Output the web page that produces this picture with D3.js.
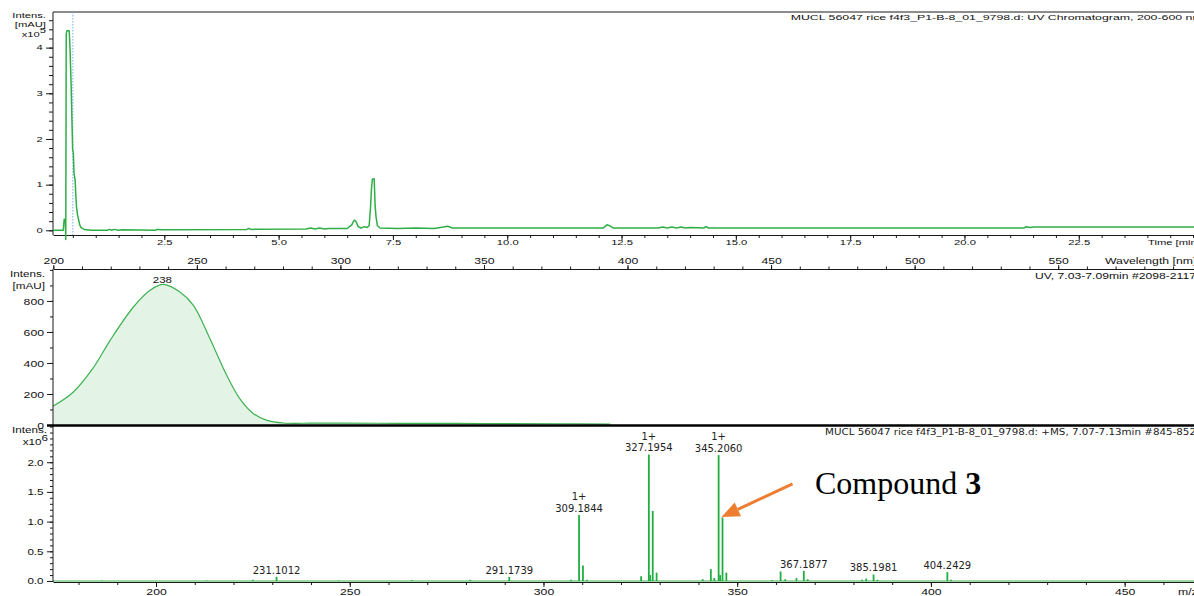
<!DOCTYPE html>
<html>
<head>
<meta charset="utf-8">
<script src="https://cdn.jsdelivr.net/npm/d3@7"></script>
<style>
  html, body { margin: 0; padding: 0; background: #fff; overflow: hidden; }
  svg { display: block; }
</style>
</head>
<body>
<svg id="chart" width="1194" height="596"></svg>
<script>
// ---------------- data ----------------
// UV chromatogram, 200-600 nm (time in min, intensity in 10^5 mAU)
const uvTime = [0.07, 0.29, 0.31, 0.335, 0.345, 0.355, 0.37, 0.42, 0.435, 0.45, 0.465, 0.48, 0.495, 0.51,
  0.525, 0.55, 0.565, 0.58, 0.60, 0.62, 0.65, 0.68, 0.75, 0.9, 1.25, 1.3, 1.35, 1.4, 1.5, 1.57, 2.3, 2.35,
  2.45, 4.3, 4.35, 4.4, 5.6, 5.7, 5.8, 5.9, 6.0, 6.1, 6.5, 6.6, 6.65, 6.69, 6.74, 6.8, 6.88, 6.93, 6.98,
  7.01, 7.03, 7.05, 7.09, 7.11, 7.13, 7.16, 7.22, 7.6, 8.0, 8.4, 8.6, 8.7, 8.8, 9.0, 12.1, 12.18, 12.24,
  12.32, 13.3, 13.4, 13.5, 13.6, 13.7, 13.8, 13.9, 14.0, 14.3, 14.35, 14.4, 21.3, 21.35, 21.45, 21.5, 25.02];
const uvIntensity = [0, 0, 0.24, 0.24, -0.2, 4.3, 4.37, 4.37, 4.06, 3.58, 3.07, 2.42, 1.76, 1.7,
  1.25, 1.1, 0.75, 0.52, 0.35, 0.26, 0.12, 0.06, 0.02, 0, 0, 0.02, 0, 0.02, 0, 0.01, 0, 0.02,
  0.01, 0.02, 0.04, 0.02, 0.03, 0.05, 0.03, 0.05, 0.03, 0.04, 0.04, 0.12, 0.22, 0.2, 0.08, 0.05, 0.08, 0.06, 0.1,
  0.5, 0.9, 1.12, 1.13, 0.55, 0.3, 0.1, 0.05, 0.04, 0.05, 0.04, 0.07, 0.09, 0.05, 0.05, 0.05, 0.12, 0.1,
  0.05, 0.05, 0.07, 0.05, 0.07, 0.05, 0.07, 0.05, 0.06, 0.05, 0.08, 0.05, 0.05, 0.08, 0.06, 0.07, 0.07];
const timeTicks = [2.5, 5.0, 7.5, 10.0, 12.5, 15.0, 17.5, 20.0, 22.5];
const uvMarkerTime = 0.5;

// UV spectrum, 7.03-7.09 min (wavelength in nm, intensity in mAU)
const wavelengths = [200, 207, 213.9, 219.8, 227.9, 233.7, 238.3, 244.1, 248.8, 254.6, 260.4, 265,
  269.7, 274.4, 280.1, 290, 300, 320, 340, 357, 375, 394];
const absorbance = [122, 213, 368, 546, 761, 869, 907, 858, 772, 555, 321, 168,
  73, 30, 13, 12, 12, 11, 10, 9, 8, 6];
const wavelengthTicks = [200, 250, 300, 350, 400, 450, 500, 550];
const maxWavelength = 238;

// +MS spectrum, 7.07-7.13 min (m/z, intensity in 10^6)
const mzValues = [186.1, 213.1, 225.0, 231.1012, 247.1, 266.0, 281.1, 291.1739, 307.1, 309.1844, 310.19,
  311.2, 325.2, 327.1954, 327.55, 328.2, 329.2, 341.1, 343.2, 344.1, 345.2060, 345.6, 346.21, 347.2, 359.0,
  361.2, 362.4, 365.3, 367.1877, 368.2, 382.2, 383.3, 385.1981, 386.2, 404.2429, 405.2];
const msIntensity = [0.006, 0.006, 0.02, 0.07, 0.008, 0.012, 0.02, 0.07, 0.02, 1.11, 0.26,
  0.02, 0.08, 2.13, 0.1, 1.18, 0.14, 0.03, 0.2, 0.05, 2.12, 0.1, 1.07, 0.14, 0.012,
  0.16, 0.03, 0.05, 0.17, 0.03, 0.02, 0.04, 0.11, 0.02, 0.15, 0.02];
const labelledMz = [231.1012, 291.1739, 309.1844, 327.1954, 345.2060, 367.1877, 385.1981, 404.2429];
const labelCharge = ["", "", "1+", "1+", "1+", "", "", ""];
const mzTicks = [200, 250, 300, 350, 400, 450];
const msYTicks = [0.0, 0.5, 1.0, 1.5, 2.0];
const compoundMz = 346.21;

// ---------------- drawing ----------------
const svg = d3.select("#chart");
const W = 1194;
const LX = 53;
const AXIS = "#1a1a1a";
const SANS = "'Liberation Sans', Arial, sans-serif";
const MSFONT = "'DejaVu Sans', Verdana, sans-serif";
const SERIF = "'Liberation Serif', 'Times New Roman', serif";

function txt(parent, x, y, s, o = {}) {
  const sx = o.sx || 1;
  const t = parent.append("text")
    .attr("transform", `translate(${x},${y}) scale(${sx},1)`)
    .attr("font-family", o.font || SANS)
    .attr("font-size", o.fs || 9)
    .attr("text-anchor", o.anchor || "start")
    .attr("fill", o.fill || "#111")
    .text(s);
  if (o.len) t.attr("textLength", o.len / sx).attr("lengthAdjust", "spacingAndGlyphs");
  return t;
}
function hline(parent, x1, x2, y, w = 1) {
  parent.append("line").attr("x1", x1).attr("x2", x2).attr("y1", y).attr("y2", y)
    .attr("stroke", AXIS).attr("stroke-width", w);
}
function vline(parent, x, y1, y2, w = 1) {
  parent.append("line").attr("x1", x).attr("x2", x).attr("y1", y1).attr("y2", y2)
    .attr("stroke", AXIS).attr("stroke-width", w);
}
function tickOnly(g) {
  g.select(".domain").remove();
  g.attr("color", AXIS);
}
function styleBottomText(g, fs, sx, y) {
  g.selectAll("text").attr("font-family", SANS).attr("font-size", fs).attr("fill", "#111")
    .attr("y", y).attr("dy", "0.71em").attr("transform", `scale(${sx},1)`);
}
function styleLeftText(g, fs, sx, dx) {
  g.selectAll("text").attr("font-family", SANS).attr("font-size", fs).attr("fill", "#111")
    .attr("x", dx / sx).attr("dy", "0.34em").attr("transform", `scale(${sx},1)`);
}

// ===== Panel 1: UV chromatogram =====
const p1 = svg.append("g");
const xT = d3.scaleLinear().domain([0.0656, 25.02]).range([LX, W]);
const yT = d3.scaleLinear().domain([0, 4.78]).range([230.3, 12]);
const s1 = 1.65, f1 = 6.8;

hline(p1, LX, W, 12);
vline(p1, LX, 12, 235);

p1.append("g").attr("transform", "translate(0,235)")
  .call(d3.axisBottom(xT).tickValues(d3.range(0.5, 25.01, 0.5)).tickSize(3).tickFormat(""))
  .call(tickOnly);
p1.append("g").attr("transform", "translate(0,235)")
  .call(d3.axisBottom(xT).tickValues(timeTicks).tickSize(5).tickSizeOuter(0).tickFormat(d3.format(".1f")))
  .call(g => g.attr("color", AXIS))
  .call(g => styleBottomText(g, f1, s1, 5.3));

p1.append("g").attr("transform", `translate(${LX},0)`)
  .call(d3.axisLeft(yT).tickValues(d3.range(0, 4.79, 0.2)).tickSize(4).tickFormat(""))
  .call(tickOnly);
p1.append("g").attr("transform", `translate(${LX},0)`)
  .call(d3.axisLeft(yT).tickValues([0, 1, 2, 3, 4]).tickSize(7).tickFormat(d3.format("d")))
  .call(tickOnly)
  .call(g => styleLeftText(g, f1, s1, -10.3));

txt(p1, 1148, 245.2, "Time [min]", { fs: f1, sx: s1 });
txt(p1, 46, 17.7, "Intens.", { fs: f1, sx: s1, anchor: "end" });
txt(p1, 46, 26.5, "[mAU]", { fs: f1, sx: s1, anchor: "end" });
const e5 = txt(p1, 46, 37.3, "x10", { fs: f1, sx: s1, anchor: "end" });
e5.append("tspan").attr("dy", -4).attr("font-size", f1).text("5");
txt(p1, 790.7, 20, "MUCL 56047 rice f4f3_P1-B-8_01_9798.d: UV Chromatogram, 200-600 nm",
  { fs: 7.4, len: 412 });

// current retention-time marker
p1.append("line")
  .attr("x1", xT(uvMarkerTime)).attr("x2", xT(uvMarkerTime))
  .attr("y1", 12).attr("y2", 235)
  .attr("stroke", "#6fb2ee").attr("stroke-width", 1).attr("stroke-dasharray", "1.5,1.5");

const uvLine = d3.line().x((d, i) => xT(uvTime[i])).y(d => yT(d));
p1.append("path").datum(uvIntensity)
  .attr("d", uvLine)
  .attr("fill", "none").attr("stroke", "#2fae47").attr("stroke-width", 1.5)
  .attr("stroke-linejoin", "round");

// ===== Panel 2: UV spectrum =====
const p2 = svg.append("g");
const xW = d3.scaleLinear().domain([200, 597.3]).range([53.3, W]);
const yW = d3.scaleLinear().domain([0, 1006]).range([425, 269]);
const s2 = 1.33, f2 = 9.2;

const smooth = d3.curveCatmullRom.alpha(0.5);
const specArea = d3.area().x((d, i) => xW(wavelengths[i])).y0(yW(0)).y1(d => yW(d)).curve(smooth);
const specLine = d3.line().x((d, i) => xW(wavelengths[i])).y(d => yW(d)).curve(smooth);
p2.append("path").datum(absorbance).attr("d", specArea).attr("fill", "#e3f3e6");
p2.append("path").datum(absorbance).attr("d", specLine)
  .attr("fill", "none").attr("stroke", "#3db24f").attr("stroke-width", 1.2);

p2.append("g").attr("transform", "translate(0,269)")
  .call(d3.axisTop(xW).tickValues(d3.range(200, 597, 10)).tickSize(2.5).tickFormat(""))
  .call(tickOnly);
p2.append("g").attr("transform", "translate(0,269)")
  .call(d3.axisTop(xW).tickValues(wavelengthTicks).tickSize(4).tickSizeOuter(0).tickFormat(d3.format("d")))
  .call(g => g.attr("color", AXIS))
  .call(g => g.selectAll("text").attr("font-family", SANS).attr("font-size", f2).attr("fill", "#111")
    .attr("y", -5).attr("dy", "0").attr("transform", `scale(${s2},1)`));
txt(p2, 1105, 264, "Wavelength [nm]", { fs: f2, sx: s2 });

vline(p2, LX, 269, 426);
p2.append("g").attr("transform", `translate(${LX},0)`)
  .call(d3.axisLeft(yW).tickValues(d3.range(0, 1001, 100)).tickSize(3).tickFormat(""))
  .call(tickOnly);
p2.append("g").attr("transform", `translate(${LX},0)`)
  .call(d3.axisLeft(yW).tickValues([0, 200, 400, 600, 800]).tickSize(6).tickFormat(d3.format("d")))
  .call(tickOnly)
  .call(g => styleLeftText(g, f2, s2, -9));

txt(p2, 45, 276.7, "Intens.", { fs: f2, sx: 1.27, anchor: "end" });
txt(p2, 45, 289, "[mAU]", { fs: f2, sx: 1.27, anchor: "end" });
txt(p2, xW(maxWavelength), yW(d3.max(absorbance)) - 1.5, String(maxWavelength),
  { fs: f2, sx: 1.25, anchor: "middle" });
txt(p2, 1035, 278.5, "UV, 7.03-7.09min #2098-2117", { fs: 8.6, len: 161 });

// ===== Panel 3: +MS spectrum =====
const p3 = svg.append("g");
const xM = d3.scaleLinear().domain([173.41, 467.9]).range([LX, W]);
const yM = d3.scaleLinear().domain([0, 2.61]).range([581, 426]);
const s3 = 1.35, f3 = 8.6;

// profile baseline and centroid bars
p3.append("line").attr("x1", xM.range()[0]).attr("x2", xM.range()[1])
  .attr("y1", yM(0)).attr("y2", yM(0)).attr("stroke", "#3db24f").attr("stroke-width", 1);
p3.append("g").selectAll("line").data(mzValues).join("line")
  .attr("x1", d => xM(d)).attr("x2", d => xM(d))
  .attr("y1", yM(0)).attr("y2", (d, i) => yM(msIntensity[i]))
  .attr("stroke", "#1fae3f").attr("stroke-width", 1.8);

// peak annotations
labelledMz.forEach((mz, k) => {
  const v = msIntensity[mzValues.indexOf(mz)];
  const top = yM(v);
  txt(p3, xM(mz), top - 3.2, mz.toFixed(4), { font: MSFONT, fs: 10, anchor: "middle", fill: "#222" });
  if (labelCharge[k]) {
    txt(p3, xM(mz), top - 14.6, labelCharge[k], { font: MSFONT, fs: 10, anchor: "middle", fill: "#222" });
  }
});

vline(p3, LX, 426, 582);
p3.append("g").attr("transform", "translate(0,582)")
  .call(d3.axisBottom(xM).tickValues(d3.range(180, 468, 10)).tickSize(3).tickFormat(""))
  .call(tickOnly);
p3.append("g").attr("transform", "translate(0,582)")
  .call(d3.axisBottom(xM).tickValues(mzTicks).tickSize(5).tickSizeOuter(0).tickFormat(d3.format("d")))
  .call(g => g.attr("color", AXIS))
  .call(g => styleBottomText(g, f2, s2, 6.3));
txt(p3, 1178, 595, "m/z", { fs: f2, sx: s2 });

p3.append("g").attr("transform", `translate(${LX},0)`)
  .call(d3.axisLeft(yM).tickValues(d3.range(0, 2.61, 0.1)).tickSize(3).tickFormat(""))
  .call(tickOnly);
p3.append("g").attr("transform", `translate(${LX},0)`)
  .call(d3.axisLeft(yM).tickValues(msYTicks).tickSize(6).tickFormat(d3.format(".1f")))
  .call(tickOnly)
  .call(g => styleLeftText(g, f3, s3, -9.5));

txt(p3, 47, 433.3, "Intens.", { fs: f2, sx: 1.27, anchor: "end" });
const e6 = txt(p3, 48, 445, "x10", { fs: f2, sx: 1.27, anchor: "end" });
e6.append("tspan").attr("dy", -4.5).text("6");
txt(p3, 825, 434.5, "MUCL 56047 rice f4f3_P1-B-8_01_9798.d: +MS, 7.07-7.13min #845-852",
  { font: MSFONT, fs: 8.4, fill: "#222", len: 371 });

// panel separator
svg.append("line").attr("x1", 47).attr("x2", W).attr("y1", 425.5).attr("y2", 425.5)
  .attr("stroke", "#000").attr("stroke-width", 2.5);

// compound annotation with arrow pointing at its ion
const ci = mzValues.indexOf(compoundMz);
const tip = [xM(compoundMz) - 1, yM(msIntensity[ci]) - 0.5];
const tail = [tip[0] + 71, tip[1] - 33];
const len = Math.hypot(tail[0] - tip[0], tail[1] - tip[1]);
const ux = (tail[0] - tip[0]) / len, uy = (tail[1] - tip[1]) / len;
const headL = 18, headW = 7.5;
const base = [tip[0] + ux * headL, tip[1] + uy * headL];
const ORANGE = "#ed7d31";
svg.append("line")
  .attr("x1", tail[0]).attr("y1", tail[1]).attr("x2", base[0]).attr("y2", base[1])
  .attr("stroke", ORANGE).attr("stroke-width", 3);
svg.append("polygon")
  .attr("points", [tip, [base[0] - uy * headW, base[1] + ux * headW], [base[0] + uy * headW, base[1] - ux * headW]]
    .map(p => p.join(",")).join(" "))
  .attr("fill", ORANGE);

const comp = svg.append("text")
  .attr("x", 815).attr("y", 494)
  .attr("font-family", SERIF).attr("font-size", 32).attr("fill", "#000")
  .text("Compound ");
comp.append("tspan").attr("font-weight", "bold").text("3");
</script>
</body>
</html>
